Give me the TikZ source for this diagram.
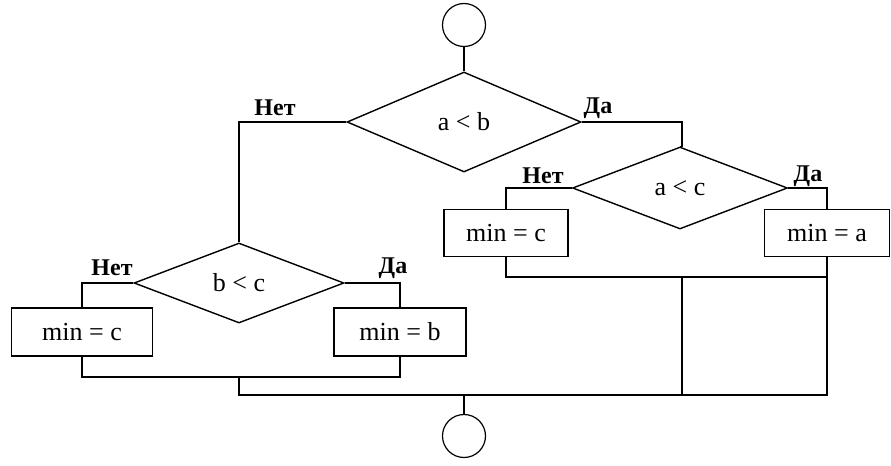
\documentclass[tikz,border=0pt]{standalone}
\usepackage{fontspec}
\setmainfont{Liberation Serif}
\usetikzlibrary{shapes.geometric, positioning, calc}

\begin{document}
\begin{tikzpicture}[
    x=0.5pt, y=-0.5pt,
    every node/.style={font=\fontsize{13}{15}\selectfont},
    term/.style={circle, draw, line width=0.6pt, minimum size=21.5pt, inner sep=0pt},
    cond/.style={diamond, draw, line width=0.7pt, inner sep=0pt},
    proc/.style={rectangle, draw, line width=0.7pt, minimum height=23.5pt, inner sep=0pt},
    lbl/.style={font=\bfseries\fontsize{12}{14}\selectfont, inner sep=0pt},
    flow/.style={line width=0.7pt}
]
\useasboundingbox (0,0) rectangle (891,466);

% Начало и конец
\node[term] (start) at (464,25) {};
\node[term] (stop) at (464,436) {};

% Условия
\node[cond, minimum width=117pt, minimum height=50pt] (ab) at (464,122) {a < b};
\node[cond, minimum width=107.5pt, minimum height=41pt] (ac) at (680,188) {a < c};
\node[cond, minimum width=105pt, minimum height=40pt] (bc) at (239,283) {b < c};

% Присваивания
\node[proc, minimum width=62pt] (minc2) at (506,233) {min = c};
\node[proc, minimum width=62.5pt] (mina) at (827,233) {min = a};
\node[proc, minimum width=70.5pt, minimum height=24pt] (minc1) at (82,332) {min = c};
\node[proc, minimum width=66pt, minimum height=24pt] (minb) at (400,332) {min = b};

% Подписи ветвей
\node[lbl] (ab-no) at (275,108) {Нет};
\node[lbl] (ab-yes) at (598,108) {Да};
\node[lbl] (ac-no) at (543,176) {Нет};
\node[lbl] (ac-yes) at (808,176) {Да};
\node[lbl] (bc-no) at (112,268) {Нет};
\node[lbl] (bc-yes) at (393,268) {Да};

% Точки слияния
\coordinate (jl) at (239,377);
\coordinate (jr) at (682,277);
\coordinate (jb) at (239,395);
\coordinate (jend) at (mina.south |- jb);
\coordinate (jmid) at (jr |- jb);
\coordinate (jstop) at (stop.north |- jb);

% Соединения
\draw[flow] (start) -- (ab.north);
\draw[flow] (ab.west) -| (bc.north);
\draw[flow] (ab.east) -| (jr |- ac.north) -- (ac.north);
\draw[flow] (ac.west) -| (minc2.north);
\draw[flow] (ac.east) -| (mina.north);
\draw[flow] (bc.west) -| (minc1.north);
\draw[flow] (bc.east) -| (minb.north);

\draw[flow] (minc1.south) |- (jl) -| (minb.south);
\draw[flow] (jl) -- (jb) -- (jend) -- (mina.south);
\draw[flow] (minc2.south) |- (jr) -- (jr -| mina.south);
\draw[flow] (jr) -- (jmid);
\draw[flow] (jstop) -- (stop.north);

\end{tikzpicture}
\end{document}
